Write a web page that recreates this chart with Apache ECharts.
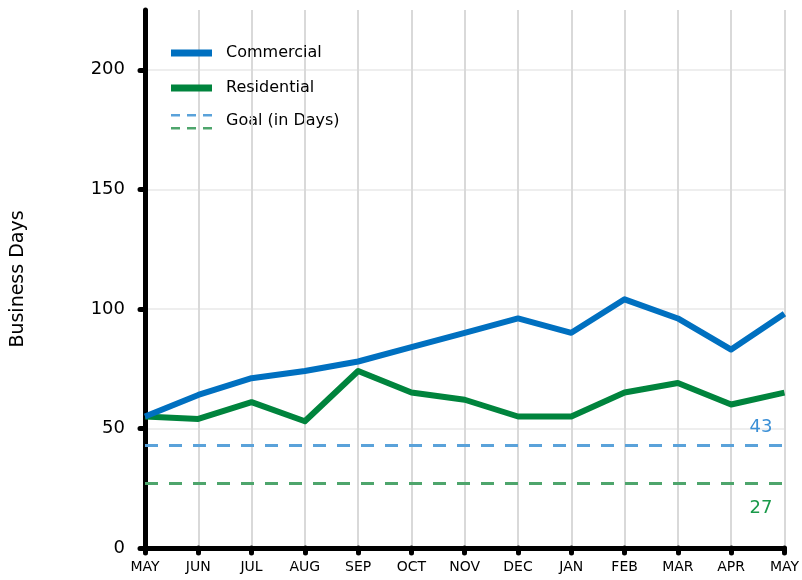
<!DOCTYPE html>
<html>
<head>
<meta charset="utf-8">
<script src="https://cdn.jsdelivr.net/npm/echarts@6/dist/echarts.min.js"></script>
<style>
  html, body { margin: 0; padding: 0; background: #fff; }
  #main { width: 802px; height: 580px; }
</style>
</head>
<body>
<div id="main"></div>
<script>
var months = ['MAY', 'JUN', 'JUL', 'AUG', 'SEP', 'OCT', 'NOV', 'DEC', 'JAN', 'FEB', 'MAR', 'APR', 'MAY'];
var commercial = [55, 64, 71, 74, 78, 84, 90, 96, 90, 104, 96, 83, 98];
var residential = [55, 54, 61, 53, 74, 65, 62, 55, 55, 65, 69, 60, 65];
var goalCommercial = 43;
var goalResidential = 27;
var yTicks = [0, 50, 100, 150, 200];

var font = '"DejaVu Sans", sans-serif';
var blue = '#0070c0', green = '#00843d';
var blueGoal = '#5aa2da', greenGoal = '#4ea56c';

var chart = echarts.init(document.getElementById('main'));

// little dashes for the goal legend entry
var goalDash = function (x, y, color) {
  return { type: 'rect', shape: { x: x, y: y, width: 9, height: 2.5 }, style: { fill: color } };
};

var option = {
  animation: false,
  textStyle: { fontFamily: font },
  grid: { left: 145, right: 17, top: 10, bottom: 32 },
  legend: {
    orient: 'vertical',
    left: 171,
    top: 45,
    padding: 0,
    itemWidth: 41,
    itemHeight: 7,
    itemGap: 19,
    icon: 'rect',
    textStyle: { fontFamily: font, fontSize: 16, color: '#000', padding: [0, 0, 0, 9] },
    data: ['Commercial', 'Residential']
  },
  graphic: [
    goalDash(171, 114, blueGoal), goalDash(187, 114, blueGoal), goalDash(203, 114, blueGoal),
    goalDash(171, 127, greenGoal), goalDash(187, 127, greenGoal), goalDash(203, 127, greenGoal),
    { type: 'text', left: 226, top: 113, style: { text: 'Goal (in Days)', font: '16px ' + font, fill: '#000' } }
  ],
  xAxis: {
    type: 'category',
    data: months,
    boundaryGap: false,
    axisLine: { lineStyle: { color: '#000', width: 5, cap: 'round' } },
    axisTick: { show: true, length: 5, lineStyle: { color: '#000', width: 5, cap: 'round' } },
    axisLabel: { color: '#000', fontSize: 14, margin: 12, fontFamily: font },
    splitLine: { show: true, lineStyle: { color: '#d9d9d9', width: 2 } }
  },
  yAxis: {
    type: 'value',
    min: 0,
    max: 225,
    interval: 50,
    name: 'Business Days',
    nameLocation: 'middle',
    nameGap: 117,
    nameTextStyle: { color: '#000', fontSize: 19, fontFamily: font },
    axisLine: { show: true, lineStyle: { color: '#000', width: 5, cap: 'round' } },
    axisTick: { show: true, length: 5, customValues: yTicks, lineStyle: { color: '#000', width: 5, cap: 'round' } },
    axisLabel: { color: '#000', fontSize: 18, margin: 20, fontFamily: font, customValues: yTicks },
    splitLine: { show: true, lineStyle: { color: '#eeeeee', width: 2 } }
  },
  series: [
    {
      name: 'Commercial',
      type: 'line',
      data: commercial,
      symbol: 'none',
      color: blue,
      lineStyle: { width: 6, color: blue, join: 'round' },
      z: 4
    },
    {
      name: 'Residential',
      type: 'line',
      data: residential,
      symbol: 'none',
      color: green,
      lineStyle: { width: 6, color: green, join: 'round' },
      z: 3,
      markLine: {
        silent: true,
        symbol: 'none',
        data: [
          {
            yAxis: goalCommercial,
            lineStyle: { color: blueGoal, type: [13, 11], width: 3 },
            label: { position: 'insideEndTop', formatter: '{c}', color: '#3a8fd6', fontSize: 18, fontFamily: font, distance: [12, 9] }
          },
          {
            yAxis: goalResidential,
            lineStyle: { color: greenGoal, type: [13, 11], width: 3 },
            label: { position: 'insideEndBottom', formatter: '{c}', color: '#1a9a4a', fontSize: 18, fontFamily: font, distance: [12, 16] }
          }
        ]
      }
    }
  ]
};

chart.setOption(option);
</script>
</body>
</html>
